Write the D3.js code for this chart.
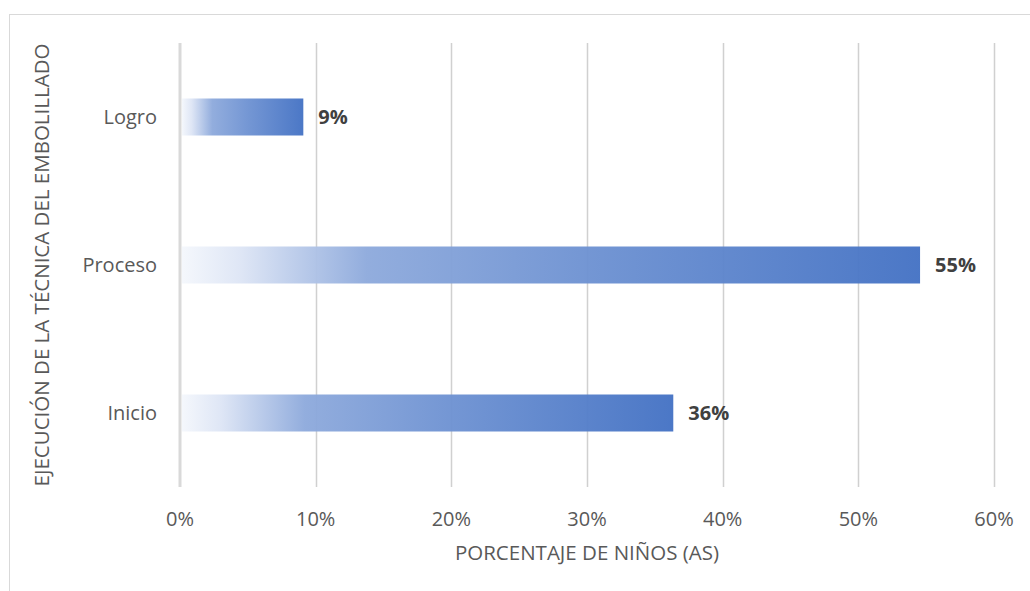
<!DOCTYPE html>
<html>
<head>
<meta charset="utf-8">
<script src="https://cdn.jsdelivr.net/npm/d3@7"></script>
<style>
  body { margin: 0; background: #fff; }
  svg { display: block; font-family: "Open Sans", "Noto Sans", sans-serif; }
</style>
</head>
<body>
<svg id="chart" width="1030" height="591"></svg>
<script>
// data
var categories = ["Logro", "Proceso", "Inicio"];
var values = [0.0909, 0.5455, 0.3636];
var valueLabels = ["9%", "55%", "36%"];
var xTicks = [0, 0.1, 0.2, 0.3, 0.4, 0.5, 0.6];
var xTitle = "PORCENTAJE DE NIÑOS (AS)";
var yTitle = "EJECUCIÓN DE LA TÉCNICA DEL EMBOLILLADO";

var svg = d3.select("#chart");
var plotLeft = 180, plotRight = 994, plotTop = 43, plotBottom = 487;
var fontSize = "20px";
var titleSize = "20.5px";

// chart frame
svg.append("rect")
    .attr("x", 9.5).attr("y", 14.5)
    .attr("width", 1040).attr("height", 600)
    .attr("fill", "none")
    .attr("stroke", "#d9d9d9");

var x = d3.scaleLinear().domain([0, 0.6]).range([plotLeft, plotRight]);
var y = d3.scaleBand().domain(categories).range([plotTop, plotBottom]).paddingInner(0.75).paddingOuter(0.375);

var defs = svg.append("defs");
var grad = defs.append("linearGradient")
    .attr("id", "barGrad")
    .attr("x1", 0).attr("x2", 1).attr("y1", 0).attr("y2", 0);
grad.append("stop").attr("offset", 0).attr("stop-color", "#f4f7fc");
grad.append("stop").attr("offset", 0.08).attr("stop-color", "#dde5f5");
grad.append("stop").attr("offset", 0.25).attr("stop-color", "#8eaadc");
grad.append("stop").attr("offset", 0.55).attr("stop-color", "#6e92d2");
grad.append("stop").attr("offset", 1).attr("stop-color", "#4472c4");

// gridlines
svg.append("g")
  .selectAll("line")
  .data(xTicks.filter(d => d > 0))
  .enter().append("line")
    .attr("x1", d => Math.round(x(d)) + 0.5)
    .attr("x2", d => Math.round(x(d)) + 0.5)
    .attr("y1", plotTop).attr("y2", plotBottom)
    .attr("stroke", "#d0d0d0")
    .attr("stroke-width", 1.5);

// bars
svg.append("g")
  .selectAll("rect")
  .data(categories)
  .enter().append("rect")
    .attr("x", x(0) + 2)
    .attr("y", d => y(d))
    .attr("width", (d, i) => x(values[i]) - x(0) - 2)
    .attr("height", y.bandwidth())
    .attr("fill", "url(#barGrad)")
    .attr("fill-opacity", 0.96);

// zero axis line
svg.append("line")
    .attr("x1", x(0)).attr("x2", x(0))
    .attr("y1", plotTop).attr("y2", plotBottom)
    .attr("stroke", "#d9d9d9")
    .attr("stroke-width", 3);

// x tick labels
svg.append("g")
  .selectAll("text")
  .data(xTicks)
  .enter().append("text")
    .attr("x", d => x(d))
    .attr("y", 519)
    .attr("dy", "0.35em")
    .attr("text-anchor", "middle")
    .attr("fill", "#595959")
    .style("font-size", fontSize)
    .text(d3.format(".0%"));

// category labels
svg.append("g")
  .selectAll("text")
  .data(categories)
  .enter().append("text")
    .attr("x", 157)
    .attr("y", d => y(d) + y.bandwidth() / 2)
    .attr("dy", "0.35em")
    .attr("text-anchor", "end")
    .attr("fill", "#595959")
    .style("font-size", fontSize)
    .text(d => d);

// data labels
svg.append("g")
  .selectAll("text")
  .data(categories)
  .enter().append("text")
    .attr("x", (d, i) => x(values[i]) + 15)
    .attr("y", d => y(d) + y.bandwidth() / 2)
    .attr("dy", "0.35em")
    .attr("fill", "#404040")
    .style("font-size", fontSize)
    .style("font-weight", "bold")
    .text((d, i) => valueLabels[i]);

// axis titles
svg.append("text")
    .attr("x", (plotLeft + plotRight) / 2)
    .attr("y", 553)
    .attr("dy", "0.35em")
    .attr("text-anchor", "middle")
    .attr("fill", "#595959")
    .style("font-size", titleSize)
    .text(xTitle);

svg.append("text")
    .attr("transform", "translate(42," + ((plotTop + plotBottom) / 2) + ") rotate(-90)")
    .attr("dy", "0.35em")
    .attr("text-anchor", "middle")
    .attr("fill", "#595959")
    .style("font-size", titleSize)
    .text(yTitle);
</script>
</body>
</html>
